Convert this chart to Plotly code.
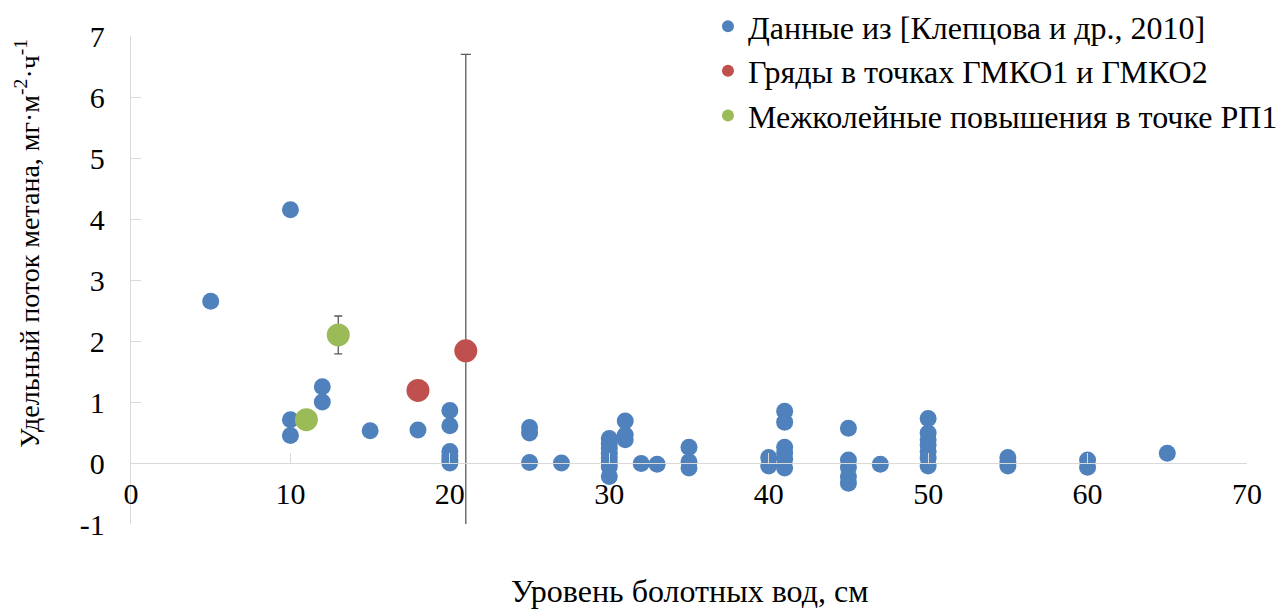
import plotly.graph_objects as go

# Data from [Клепцова и др., 2010]
blue_x = [5, 10, 10, 10, 12, 12, 15, 18,
          20, 20, 20, 20, 20, 20,
          25, 25, 25, 27,
          30, 30, 30, 30, 30, 30, 30, 30,
          31, 31, 31, 32, 33,
          35, 35, 35,
          40, 40,
          41, 41, 41, 41, 41, 41,
          45, 45, 45, 45, 45, 47,
          50, 50, 50, 50, 50, 50, 50,
          55, 55, 55, 60, 60, 65]
blue_y = [2.65, 4.15, 0.71, 0.45, 1.25, 1.0, 0.53, 0.54,
          0.86, 0.61, 0.19, 0.12, 0.05, 0.0,
          0.58, 0.49, 0.01, 0.0,
          0.40, 0.32, 0.24, 0.16, 0.08, 0.0, -0.06, -0.22,
          0.69, 0.46, 0.38, -0.01, -0.02,
          0.26, 0.02, -0.08,
          0.09, -0.05,
          0.85, 0.67, 0.26, 0.17, 0.06, -0.08,
          0.57, 0.05, -0.07, -0.22, -0.33, -0.02,
          0.73, 0.49, 0.38, 0.30, 0.19, 0.08, -0.05,
          0.09, 0.02, -0.05, 0.05, -0.07, 0.16]

# Ridges at GMKO1 and GMKO2
red_x = [18, 21]
red_y = [1.19, 1.84]
red_err = [None, 4.86]

# Inter-track elevations at RP1
green_x = [11, 13]
green_y = [0.71, 2.1]
green_err = [None, 0.31]

names = ["Данные из [Клепцова и др., 2010]",
         "Гряды в точках ГМКО1 и ГМКО2",
         "Межколейные повышения в точке РП1"]

x_ticks = [0, 10, 20, 30, 40, 50, 60, 70]
y_ticks = [-1, 0, 1, 2, 3, 4, 5, 6, 7]
y_ticktext = ["-1", "0", "1", "2", "3", "4", "5", "6", "7"]

x_title = "Уровень болотных вод, см"
y_title = "Удельный поток метана, мг·м<sup>-2</sup>·ч<sup>-1</sup>"

FONT = "Liberation Serif"
AXC = "#d9d9d9"

fig = go.Figure()
fig.add_trace(go.Scatter(x=blue_x, y=blue_y, mode="markers", name=names[0],
                         legendgroup="a",
                         marker=dict(color="#4F81BD", size=17, line=dict(width=0))))
fig.add_trace(go.Scatter(x=red_x, y=red_y, mode="markers", name=names[1],
                         legendgroup="b",
                         marker=dict(color="#C0504D", size=23, line=dict(width=0)),
                         error_y=dict(type="data", array=red_err, visible=True,
                                      color="#595959", thickness=1.3, width=5)))
fig.add_trace(go.Scatter(x=green_x, y=green_y, mode="markers", name=names[2],
                         legendgroup="c",
                         marker=dict(color="#9BBB59", size=23, line=dict(width=0)),
                         error_y=dict(type="data", array=green_err, visible=True,
                                      color="#595959", thickness=1.3, width=4)))

fig.update_layout(
    width=1280, height=610,
    margin=dict(l=131, r=33, t=36, b=86, autoexpand=False),
    paper_bgcolor="white", plot_bgcolor="white",
    font=dict(family=FONT, size=30, color="black"),
    showlegend=True,
    legend=dict(x=0.517, y=1.076, xanchor="left", yanchor="top",
                font=dict(family=FONT, size=32),
                itemsizing="constant", tracegroupgap=0,
                bgcolor="rgba(0,0,0,0)"),
    xaxis=dict(range=[0, 70], tickvals=x_ticks,
               showgrid=False, zeroline=False,
               showline=True, linecolor=AXC, linewidth=1.3,
               ticks="inside", ticklen=10, tickcolor=AXC, tickwidth=1.3,
               anchor="free", position=0.125,
               tickfont=dict(family=FONT, size=30),
               ticklabelstandoff=4),
    yaxis=dict(range=[-1, 7], tickvals=y_ticks, ticktext=y_ticktext,
               showgrid=False, zeroline=False,
               showline=True, linecolor=AXC, linewidth=1.3,
               ticks="inside", ticklen=10, tickcolor=AXC, tickwidth=1.3,
               tickfont=dict(family=FONT, size=30),
               ticklabelstandoff=19),
)

fig.add_annotation(text=x_title, xref="paper", yref="paper",
                   x=0.5, y=-0.137, xanchor="center", yanchor="middle",
                   showarrow=False, font=dict(family=FONT, size=32))
fig.add_annotation(text=y_title, xref="paper", yref="paper", textangle=-90,
                   x=-0.0923, y=0.576, xanchor="center", yanchor="middle",
                   showarrow=False, font=dict(family=FONT, size=28))

fig.write_html("out.html", config={"displayModeBar": False},
               post_script="document.body.style.margin='0';")
